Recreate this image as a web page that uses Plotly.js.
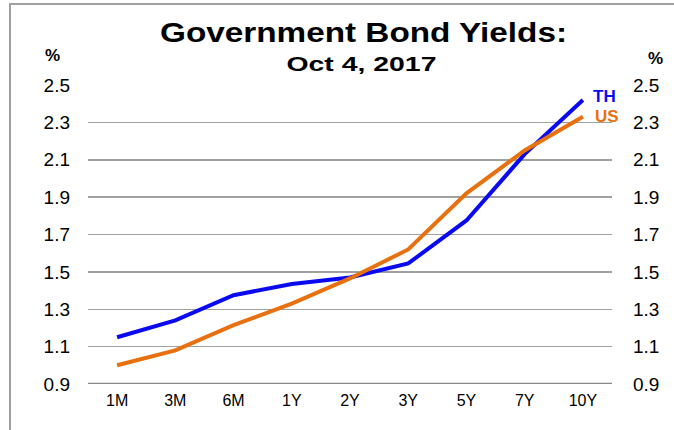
<!DOCTYPE html>
<html>
<head>
<meta charset="utf-8">
<script src="https://cdn.plot.ly/plotly-3.0.1.min.js"></script>
<style>
html,body{margin:0;padding:0;background:#fff;}
#wrap{position:relative;width:674px;height:430px;}
#chart{width:674px;height:430px;}
#frame{position:absolute;left:9px;top:3px;width:700px;height:500px;border-left:2px solid #a0a0a0;border-top:2px solid #a0a0a0;pointer-events:none;}
</style>
</head>
<body>
<div id="wrap"><div id="chart"></div><div id="frame"></div></div>
<script>
const categories = ["1M","3M","6M","1Y","2Y","3Y","5Y","7Y","10Y"];
const thYields = [1.15, 1.24, 1.375, 1.435, 1.47, 1.545, 1.775, 2.13, 2.42];
const usYields = [1.00, 1.08, 1.215, 1.33, 1.465, 1.62, 1.92, 2.15, 2.33];
const yTicks = [0.9, 1.1, 1.3, 1.5, 1.7, 1.9, 2.1, 2.3, 2.5];
const yTickText = ["0.9","1.1","1.3","1.5","1.7","1.9","2.1","2.3","2.5"];

const FONT = "Liberation Sans, Arial, sans-serif";

const traces = [
  {x: categories, y: thYields, type: "scatter", mode: "lines", name: "TH",
   line: {color: "#0a0af0", width: 4}, hoverinfo: "skip", showlegend: false},
  {x: categories, y: usYields, type: "scatter", mode: "lines", name: "US",
   line: {color: "#e8700f", width: 4}, hoverinfo: "skip", showlegend: false, yaxis: "y2"}
];

const yCommon = {
  range: [0.9, 2.5], tickmode: "array", tickvals: yTicks, ticktext: yTickText,
  fixedrange: true, ticks: "", tickfont: {family: FONT, size: 19, color: "#000"}
};

const layout = {
  width: 674, height: 430,
  margin: {l: 88, r: 62, t: 85, b: 46},
  paper_bgcolor: "#fff", plot_bgcolor: "#fff",
  font: {family: FONT, color: "#000"},
  title: {text: "<b>Government Bond Yields:</b>", font: {family: FONT, size: 27, color: "#000"},
          x: 363.5 / 674, xref: "container", xanchor: "center", y: 1 - 33 / 430, yref: "container", yanchor: "middle"},
  xaxis: {type: "category", categoryorder: "array", categoryarray: categories,
          range: [-0.5, 8.5], showgrid: false, zeroline: false, showline: false, ticks: "",
          tickfont: {family: FONT, size: 16, color: "#000"}, ticklabelstandoff: 5, fixedrange: true},
  yaxis: Object.assign({}, yCommon, {side: "left", showgrid: true, gridcolor: "#a0a0a0", gridwidth: 1.5,
          zeroline: false, showline: false, ticklabelstandoff: 17}),
  yaxis2: Object.assign({}, yCommon, {side: "right", overlaying: "y", showgrid: false,
          zeroline: false, showline: false, ticklabelstandoff: 20}),
  shapes: [
    {type: "line", xref: "paper", yref: "y", x0: 0, x1: 1, y0: 0.9, y1: 0.9,
     line: {color: "#888888", width: 2.5}, layer: "above"}
  ],
  annotations: [
    {text: "<b>Oct 4, 2017</b>", xref: "paper", yref: "paper", x: (361 - 88) / 524, y: 1 + (85 - 63) / 299,
     xanchor: "center", yanchor: "middle", showarrow: false, font: {family: FONT, size: 21, color: "#000"}},
    {text: "<b>%</b>", xref: "paper", yref: "paper", x: (52 - 88) / 524, y: 1 + (85 - 55) / 299,
     xanchor: "center", yanchor: "middle", showarrow: false, font: {family: FONT, size: 17, color: "#000"}},
    {text: "<b>%</b>", xref: "paper", yref: "paper", x: (655 - 88) / 524, y: 1 + (85 - 58) / 299,
     xanchor: "center", yanchor: "middle", showarrow: false, font: {family: FONT, size: 17, color: "#000"}},
    {text: "<b>TH</b>", xref: "x", yref: "y", x: 8, y: thYields[8], xshift: 22, yshift: 3,
     xanchor: "center", yanchor: "middle", showarrow: false, font: {family: FONT, size: 17, color: "#0a0af0"}},
    {text: "<b>US</b>", xref: "x", yref: "y", x: 8, y: usYields[8], xshift: 24, yshift: 0,
     xanchor: "center", yanchor: "middle", showarrow: false, font: {family: FONT, size: 17, color: "#e8700f"}}
  ]
};

Plotly.newPlot("chart", traces, layout, {staticPlot: true, displayModeBar: false}).then(function (gd) {
  // the reference image is horizontally stretched; widen the title texts to match
  const t = gd.querySelector(".gtitle");
  if (t) { t.setAttribute("textLength", "407"); t.setAttribute("lengthAdjust", "spacingAndGlyphs"); }
  const a = gd.querySelectorAll(".annotation-text");
  if (a[0]) { a[0].setAttribute("textLength", "150"); a[0].setAttribute("lengthAdjust", "spacingAndGlyphs"); }
});
</script>
</body>
</html>
